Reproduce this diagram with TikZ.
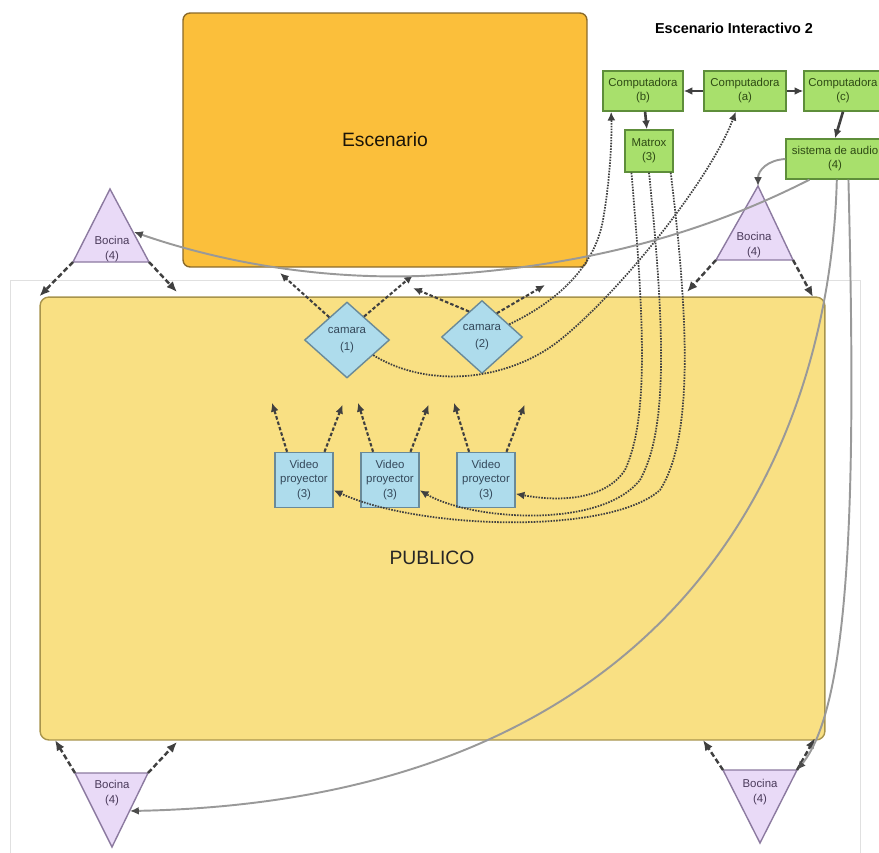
\documentclass[tikz,border=0pt]{standalone}
\usepackage{fontspec}
\setmainfont{Liberation Sans}
\usetikzlibrary{arrows.meta,shapes.geometric}
\definecolor{stagefill}{HTML}{FBBF3B}
\definecolor{stageedge}{HTML}{8A6A2A}
\definecolor{hallfill}{HTML}{F9E083}
\definecolor{halledge}{HTML}{A8944C}
\definecolor{pcfill}{HTML}{A8E06C}
\definecolor{pcedge}{HTML}{5E8E3A}
\definecolor{pctext}{HTML}{2E4A14}
\definecolor{camfill}{HTML}{AEDCEC}
\definecolor{camedge}{HTML}{6A8A98}
\definecolor{camtext}{HTML}{34485A}
\definecolor{spkfill}{HTML}{E9DAF7}
\definecolor{spkedge}{HTML}{8C7AA0}
\definecolor{spktext}{HTML}{4A3A5A}
\colorlet{link}{black!75}
\colorlet{audioline}{black!40}
\tikzset{
    small/.style={font=\fontsize{6.5}{8}\selectfont, align=center},
    stage/.style={rectangle, rounded corners=4pt, fill=stagefill, draw=stageedge, thick,
        minimum width=8.08cm, minimum height=5.08cm, text=black!80!stageedge,
        font=\fontsize{11}{13}\selectfont},
    hall/.style={rectangle, rounded corners=5pt, fill=hallfill, draw=halledge, thick,
        minimum width=15.7cm, minimum height=8.86cm},
    bigtext/.style={font=\fontsize{11}{13}\selectfont, text=black!85},
    heading/.style={font=\bfseries\fontsize{8.2}{10}\selectfont},
    pc/.style={small, rectangle, fill=pcfill, draw=pcedge, thick, text=pctext,
        minimum height=0.8cm, inner sep=1pt},
    cam/.style={small, diamond, aspect=1, inner sep=0pt, fill=camfill, draw=camedge,
        thick, text=camtext, font=\fontsize{6.5}{10}\selectfont},
    vp/.style={small, rectangle, fill=camfill, draw=camedge, thick, text=camtext,
        minimum width=1.16cm, minimum height=1.1cm, inner sep=0pt,
        font=\fontsize{6.5}{8.5}\selectfont},
    speaker/.style={fill=spkfill, draw=spkedge, thick, line join=miter},
    spklabel/.style={small, text=spktext, font=\fontsize{6.5}{9}\selectfont},
    frame/.style={draw=black!12, line width=0.5pt},
    ctrl/.style={draw=link, line width=1.5pt, -{Latex[length=5pt,width=4.5pt]}},
    spkbeam/.style={draw=link, line width=1.4pt, dash pattern=on 3pt off 1.6pt,
        -{Latex[length=6pt,width=5pt]}},
    beam/.style={draw=link, line width=1.2pt, dash pattern=on 2pt off 1.2pt,
        -{Latex[length=5pt,width=4.5pt]}},
    signal/.style={draw=link, line width=1pt, dash pattern=on 0.9pt off 0.7pt,
        -{Latex[length=5pt,width=4.5pt]}},
    audio/.style={draw=audioline, line width=1.1pt,
        -{Latex[length=5pt,width=4.5pt,color=black!70]}}
}

\begin{document}
\begin{tikzpicture}[x=0.02cm,y=-0.02cm]
    \useasboundingbox (0,0) rectangle (879,852);
    \draw[frame] (10,880) -- (10,280) -- (860,280) -- (860,880);

    \node[stage] (escenario) at (385,140) {Escenario};
    \node[hall] (publico) at (432.5,518.5) {};
    \node[bigtext] (publicolabel) at (432,558) {PUBLICO};
    \node[heading] (titulo) at (734,28) {Escenario Interactivo 2};

    \node[pc, minimum width=1.6cm]  (pcb) at (643,91) {Computadora\\(b)};
    \node[pc, minimum width=1.64cm] (pca) at (745,91) {Computadora\\(a)};
    \node[pc, minimum width=1.56cm] (pcc) at (843,91) {Computadora\\(c)};
    \node[pc, minimum width=0.96cm, minimum height=0.84cm] (matrox) at (649,151) {Matrox\\(3)};
    \node[pc, minimum width=1.96cm] (audio) at (835,159) {sistema de audio\\(4)};

    \node[cam, minimum width=1.7cm, minimum height=1.52cm]  (cam1) at (347,340) {camara\\(1)};
    \node[cam, minimum width=1.62cm, minimum height=1.46cm] (cam2) at (482,337) {camara\\(2)};

    \node[vp] (vp1) at (304,480) {Video\\proyector\\(3)};
    \node[vp] (vp2) at (390,480) {Video\\proyector\\(3)};
    \node[vp] (vp3) at (486,480) {Video\\proyector\\(3)};

    \draw[speaker] (110,189) coordinate (btl-top) -- (149,262) coordinate (btl-r)
        -- (73,262) coordinate (btl-l) -- cycle;
    \node[spklabel] (bocinaTL) at (112,249) {Bocina\\(4)};
    \draw[speaker] (758,186) coordinate (btr-top) -- (793,260) coordinate (btr-r)
        -- (716,260) coordinate (btr-l) -- cycle;
    \node[spklabel] (bocinaTR) at (754,245) {Bocina\\(4)};
    \draw[speaker] (75,773) coordinate (bbl-l) -- (148,773) coordinate (bbl-r)
        -- (112,847) -- cycle;
    \node[spklabel] (bocinaBL) at (112,793) {Bocina\\(4)};
    \draw[speaker] (723,770) coordinate (bbr-l) -- (797,770) coordinate (bbr-r)
        -- (760,843) -- cycle;
    \node[spklabel] (bocinaBR) at (760,792) {Bocina\\(4)};

    \coordinate (btl-side) at (134,232);
    \coordinate (bbl-side) at (130,811);

    \draw[ctrl] (pca) -- (pcb);
    \draw[ctrl] (pca) -- (pcc);
    \draw[ctrl] (pcb) -- (matrox);
    \draw[ctrl] (pcc.south) -- (audio.north);

    \draw[spkbeam] (btl-l) -- (publico.north west);
    \draw[spkbeam] (btl-r) -- (177,292);
    \draw[spkbeam] (btr-l) -- (687,292);
    \draw[spkbeam] (btr-r) -- (813,297);
    \draw[spkbeam] (bbl-l) -- (55,740);
    \draw[spkbeam] (bbl-r) -- (177,742);
    \draw[spkbeam] (bbr-l) -- (703,740);
    \draw[spkbeam] (bbr-r) -- (815,738);

    \draw[beam] (cam1.128) -- (280,273);
    \draw[beam] (cam1.54)  -- (413,275);
    \draw[beam] (cam2.117) -- (413,288);
    \draw[beam] (cam2.58)  -- (545,285);
    \foreach \v in {vp1,vp2,vp3} {
        \draw[beam] (\v.121) -- ++(-15,-49);
        \draw[beam] (\v.54)  -- ++(18,-47);
    }

    \draw[signal] (cam1.-30) .. controls (430,390) and (510,380) .. (560,340)
        .. controls (620,292) and (710,180) .. (pca.-114);
    \draw[signal] (cam2.25) .. controls (560,300) and (595,265) .. (603,220)
        .. controls (610,180) and (612,140) .. (pcb.-147);
    \draw[signal] (matrox.-129) .. controls (645,330) and (648,420) .. (625,470)
        .. controls (605,500) and (560,502) .. (vp3.-25);
    \draw[signal] (matrox.south) .. controls (665,330) and (668,430) .. (640,480)
        .. controls (600,530) and (470,520) .. (vp2.-19);
    \draw[signal] (matrox.-45) .. controls (690,330) and (692,440) .. (660,490)
        .. controls (610,535) and (420,530) .. (vp1.-19);

    \draw[audio] (audio.west) .. controls (768,160) and (758,170) .. (btr-top);
    \draw[audio] (audio.-141) .. controls (720,225) and (600,268) .. (420,276)
        .. controls (300,280) and (200,255) .. (btl-side);
    \draw[audio] (audio.-85) .. controls (830,450) and (680,800) .. (bbl-side);
    \draw[audio] (audio.-57) .. controls (855,450) and (855,700) .. (bbr-r);
\end{tikzpicture}
\end{document}
